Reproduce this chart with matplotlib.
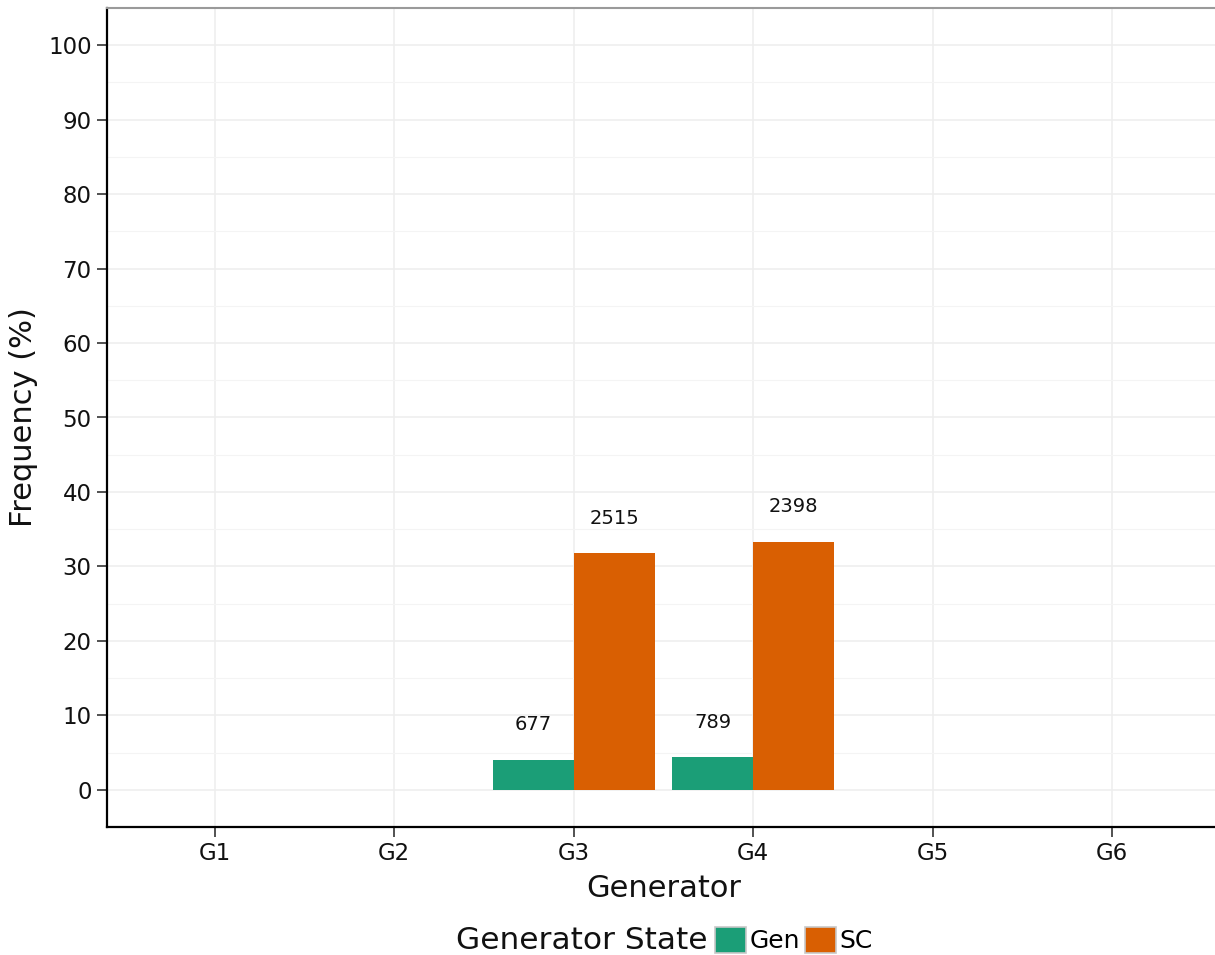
import matplotlib
matplotlib.use("Agg")
import matplotlib.pyplot as plt
from matplotlib.patches import Patch
import numpy as np

# data
generators = ["G1", "G2", "G3", "G4", "G5", "G6"]
gen_pct = [0, 0, 4.0, 4.4, 0, 0]
sc_pct = [0, 0, 31.8, 33.3, 0, 0]
gen_n = [0, 0, 677, 789, 0, 0]
sc_n = [0, 0, 2515, 2398, 0, 0]

c_gen = "#1b9e77"
c_sc = "#d95f02"

fig = plt.figure(figsize=(12.15, 9.55), dpi=100)
ax = fig.add_axes([107 / 1215, 1 - 827 / 955, (1220 - 107) / 1215, (827 - 8) / 955])

x = np.arange(len(generators))
w = 0.45
ax.bar(x - w / 2, gen_pct, width=w, color=c_gen, zorder=3)
ax.bar(x + w / 2, sc_pct, width=w, color=c_sc, zorder=3)

# count labels above the bars
for i in range(len(generators)):
    if gen_n[i]:
        ax.text(x[i] - w / 2, gen_pct[i] + 4.7, str(gen_n[i]), ha="center", va="center",
                fontsize=14, color="#111111")
    if sc_n[i]:
        ax.text(x[i] + w / 2, sc_pct[i] + 4.7, str(sc_n[i]), ha="center", va="center",
                fontsize=14, color="#111111")

ax.set_xlim(-0.6, len(generators) - 0.4)
ax.set_ylim(-5, 105)
ax.set_xticks(x)
ax.set_xticklabels(generators)
ax.set_yticks(np.arange(0, 101, 10))
ax.set_yticks(np.arange(5, 101, 10), minor=True)
ax.tick_params(axis="both", which="major", labelsize=16.5, length=7, width=1.2,
               color="#333333", labelcolor="#111111", pad=4)
ax.tick_params(axis="y", which="minor", length=0)

ax.grid(True, which="major", color="#eeeeee", lw=1.1, zorder=0)
ax.grid(True, which="minor", axis="y", color="#f4f4f4", lw=0.8, zorder=0)
ax.set_axisbelow(True)

for s in ["left", "bottom"]:
    ax.spines[s].set_linewidth(1.6)
    ax.spines[s].set_color("black")
ax.spines["right"].set_visible(False)
ax.spines["top"].set_color("#9a9a9a")
ax.spines["top"].set_linewidth(1.5)

ax.set_xlabel("Generator", fontsize=22, color="#111111", labelpad=6)
ax.set_ylabel("Frequency (%)", fontsize=22, color="#111111", labelpad=7)

# legend at the bottom, title to the left of the keys
fig.text(582 / 1215, 1 - 940 / 955, "Generator State", fontsize=22.5, ha="center",
         va="center", color="#111111")
handles = [Patch(facecolor=c_gen, edgecolor="#c8c8c8", lw=1.2),
           Patch(facecolor=c_sc, edgecolor="#c8c8c8", lw=1.2)]
fig.legend(handles, ["Gen", "SC"], loc="center left",
           bbox_to_anchor=(715 / 1215, 1 - 940 / 955), ncol=2, frameon=False,
           fontsize=18, handlelength=1.25, handleheight=1.25, handletextpad=0.12,
           columnspacing=0.2, borderpad=0, borderaxespad=0)

fig.savefig("out.png", dpi=100)
